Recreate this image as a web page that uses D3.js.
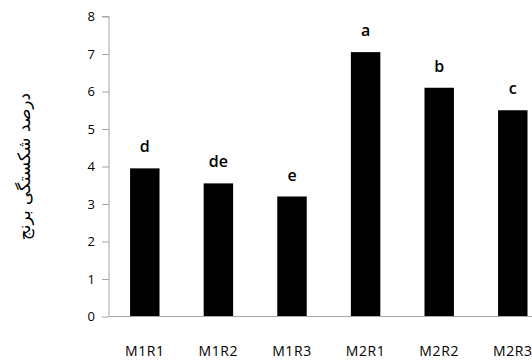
<!DOCTYPE html>
<html>
<head>
<meta charset="utf-8">
<script src="https://cdn.jsdelivr.net/npm/d3@7"></script>
<style>
  body { margin: 0; background: #fff; }
  svg { display: block; }
  .tick text { font-family: "Open Sans", "Noto Sans", sans-serif; }
</style>
</head>
<body>
<div id="chart"></div>
<script>
// Bar data.
var categories = ["M1R1", "M1R2", "M1R3", "M2R1", "M2R2", "M2R3"];
var values = [3.95, 3.55, 3.2, 7.05, 6.1, 5.5];
var letters = ["d", "de", "e", "a", "b", "c"];
var yTicks = [0, 1, 2, 3, 4, 5, 6, 7, 8];
var yTitle = "درصد شکستگی برنج";

var width = 532, height = 362;
var axisX = 109, baseY = 316.5, topY = 16.5;
var step = 73.6;

var svg = d3.select("#chart").append("svg")
  .attr("width", width)
  .attr("height", height);

var x = d3.scaleBand()
  .domain(categories)
  .range([axisX - 1, axisX - 1 + step * categories.length])
  .paddingInner(0.6)
  .paddingOuter(0.3);

var y = d3.scaleLinear()
  .domain([0, 8])
  .range([baseY, topY]);

// bars
svg.append("g").selectAll("rect")
  .data(values)
  .enter()
  .append("rect")
    .attr("x", (d, i) => x(categories[i]))
    .attr("y", d => y(d))
    .attr("width", x.bandwidth())
    .attr("height", d => y(0) - y(d))
    .attr("fill", "#000");

// significance letters
svg.append("g").selectAll("text")
  .data(letters)
  .enter()
  .append("text")
    .attr("x", (d, i) => x(categories[i]) + x.bandwidth() / 2)
    .attr("y", (d, i) => y(values[i]) - 16)
    .attr("text-anchor", "middle")
    .attr("font-family", "'Open Sans', 'Noto Sans', sans-serif")
    .attr("font-size", 16)
    .attr("font-weight", 600)
    .attr("fill", "#000")
    .text(d => d);

// y axis
var yAxis = svg.append("g")
  .attr("transform", "translate(" + axisX + ",0)")
  .call(d3.axisLeft(y).tickValues(yTicks).tickSize(7).tickPadding(7));
yAxis.selectAll("line, path").attr("stroke", "#a6a6a6");
yAxis.select(".domain").attr("d", "M-7," + topY + "H0V" + baseY);
yAxis.selectAll("text").attr("font-size", 13).attr("fill", "#000");

// x axis (baseline, no ticks)
var xAxis = svg.append("g")
  .attr("transform", "translate(0," + baseY + ")")
  .call(d3.axisBottom(x).tickSize(0).tickPadding(30));
xAxis.select(".domain")
  .attr("stroke", "#a6a6a6")
  .attr("d", "M" + axisX + ",0H" + width);
xAxis.selectAll("text")
  .attr("font-size", 14)
  .attr("letter-spacing", "0.6px")
  .attr("fill", "#000");

// y title
svg.append("text")
  .attr("transform", "translate(30," + (topY + baseY) / 2 + ") rotate(-90)")
  .attr("text-anchor", "middle")
  .attr("font-family", "'DejaVu Sans', sans-serif")
  .attr("font-size", 17)
  .attr("fill", "#000")
  .text(yTitle);
</script>
</body>
</html>
